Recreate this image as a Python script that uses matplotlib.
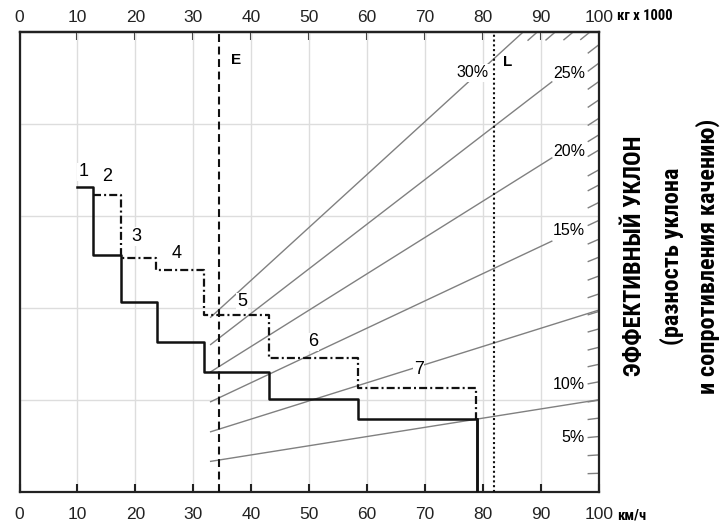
import matplotlib
matplotlib.use("Agg")
import matplotlib.pyplot as plt
from matplotlib import font_manager

# rimpull steps, solid = gears 1..7 (speed km/h, force)
speed_solid = [9.9, 12.75, 17.5, 23.7, 31.9, 43.1, 58.5, 79.0]
force_solid = [66.3, 51.5, 41.3, 32.5, 26.1, 20.1, 15.8, 0.0]

# dash-dot steps, gears 2..7
speed_dash = [12.75, 17.5, 23.5, 31.9, 43.1, 58.4, 78.9]
force_dash = [64.5, 50.8, 48.2, 38.4, 29.0, 22.5, 15.8]

gear_names = ["1", "2", "3", "4", "5", "6", "7"]
gear_label_x = [11.0, 15.1, 20.2, 27.2, 38.4, 50.7, 68.9]
gear_label_y = [69.6, 68.5, 55.5, 51.9, 41.3, 32.6, 26.5]

# effective grade lines (slope of force per unit weight)
grade_pct = [5, 10, 15, 20, 25, 30]
grade_slope = [0.20, 0.395, 0.593, 0.79, 0.97, 1.15]
grade_stop = [100, 100, 91.9, 91.9, 91.9, 100]

# small grade marks along the right and top edges
edge_marks_right = [4.0, 8.0, 12.0, 16.0, 19.9, 23.9, 27.7, 31.4, 35.4, 39.2, 43.0,
                    46.9, 51.0, 54.9, 59.0, 62.9, 66.7, 70.0, 74.3, 77.6, 81.2,
                    85.2, 89.2, 93.2, 97.2]
edge_marks_top = [89.4, 92.5, 95.6, 98.5]

pct_text = ["30%", "25%", "20%", "15%", "10%", "5%"]
pct_y = [91.1, 90.9, 74.0, 56.9, 23.4, 11.8]

speed_E = 34.4
speed_L = 82.0

names = {f.name for f in font_manager.fontManager.ttflist}
narrow = next((n for n in ["Roboto Condensed", "Liberation Sans Narrow",
                           "Open Sans Condensed", "Noto Sans Display"] if n in names),
              "DejaVu Sans")

plt.rcParams["font.family"] = ["Liberation Sans", "DejaVu Sans"]

fig = plt.figure(figsize=(7.22, 5.25), dpi=100)
ax = fig.add_axes([19.5 / 722, 33.3 / 525, 579.2 / 722, 459.7 / 525])
ax.set_xlim(0, 100)
ax.set_ylim(0, 100)

ax.set_xticks(range(0, 101, 10))
ax.set_yticks([20, 40, 60, 80])
ax.grid(color="#dddddd", lw=1.0)
ax.set_axisbelow(True)
ax.tick_params(axis="y", left=False, labelleft=False)
ax.tick_params(axis="x", direction="in", length=5.5, width=1.5, pad=11,
               labelsize=12.5, colors="#222222")
for sp in ax.spines.values():
    sp.set_linewidth(1.6)
    sp.set_color("#222222")

top = ax.secondary_xaxis("top")
top.set_xticks(range(0, 101, 10))
top.tick_params(direction="in", length=5.5, width=1.5, pad=5, labelsize=12.5,
                colors="#222222")
top.spines["top"].set_linewidth(1.6)

# grade lines
for s, stop in zip(grade_slope, grade_stop):
    xe = min(stop, 100 / s)
    ax.plot([33, xe], [33 * s, xe * s], color="#808080", lw=1.0, zorder=2)

for ye in edge_marks_right:
    s = ye / 100
    ax.plot([98.2, 100], [98.2 * s, ye], color="#808080", lw=1.0, zorder=2)
for xe in edge_marks_top:
    s = 100 / xe
    ax.plot([xe - 1.6, xe], [(xe - 1.6) * s, 100], color="#808080", lw=1.0, zorder=2)

# E / L limits
ax.axvline(speed_E, color="#111111", lw=1.5, ls=(0, (3.8, 2.2)), zorder=3)
ax.axvline(speed_L, color="#111111", lw=1.5, ls=(0, (1, 1.3)), zorder=3)
ax.text(37.4, 94.0, "E", fontsize=11, fontweight="bold", ha="center", va="center")
ax.text(84.2, 93.5, "L", fontsize=11, fontweight="bold", ha="center", va="center")

# rimpull steps
ax.step(speed_solid, force_solid, where="post", color="#111111", lw=1.8, zorder=4)
ax.plot([speed_solid[-1], speed_solid[-1]], [force_solid[-2], 0], color="#111111",
        lw=1.8, zorder=4)
ax.step(speed_dash + [speed_dash[-1]], force_dash + [force_solid[-2]], where="post",
        color="#111111", lw=1.6, ls=(0, (3.6, 1.4, 0.9, 1.4)), zorder=4)

for t, x, y in zip(gear_names, gear_label_x, gear_label_y):
    ax.text(x, y, t, fontsize=13, ha="center", va="center", zorder=5,
            bbox=dict(fc="white", ec="none", pad=0.5))

for t, y in zip(pct_text, pct_y):
    if t == "30%":
        ax.text(78.3, y, t, fontsize=11.5, ha="center", va="center", zorder=5,
                bbox=dict(fc="white", ec="none", pad=1))
    else:
        ax.text(97.6, y, t, fontsize=11.5, ha="right", va="center", zorder=5)

fig.text(617 / 722, 1 - 16 / 525, "кг x 1000", fontsize=10.5, fontweight="bold",
         family=narrow, ha="left", va="center")
fig.text(617 / 722, 1 - 516 / 525, "км/ч", fontsize=10.5, fontweight="bold",
         family=narrow, ha="left", va="center")

fig.text(635 / 722, 0.512, "ЭФФЕКТИВНЫЙ УКЛОН", rotation=90, fontsize=17.5,
         fontweight="bold", family=narrow, ha="center", va="center")
fig.text(672 / 722, 0.512, "(разность уклона", rotation=90, fontsize=17.5,
         fontweight="bold", family=narrow, ha="center", va="center")
fig.text(708 / 722, 0.512, "и сопротивления качению)", rotation=90, fontsize=17.5,
         fontweight="bold", family=narrow, ha="center", va="center")

fig.savefig("out.png", dpi=100)
